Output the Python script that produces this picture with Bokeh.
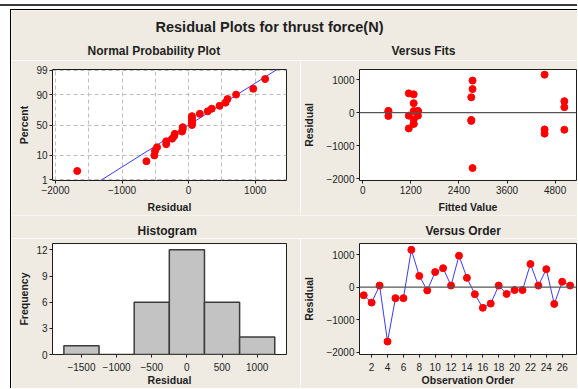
from statistics import NormalDist
import numpy as np
from bokeh.plotting import figure
from bokeh.models import FixedTicker, Span, Label, Range1d, ColumnDataSource
from bokeh.layouts import column, row
from bokeh.embed import file_html
from bokeh.resources import INLINE

# ---------------- data ----------------
observation = list(range(1, 28))
residuals = [-248, -475, 50, -1673, -337, -337, 1149, 347, -99, 465, 584, 50,
             970, 287, -218, -634, -505, 50, -208, -89, -89, 713, 50, 554,
             -515, 168, 50]
fitted = [2708, 1149, 640, 2740, 1272, 1272, 4537, 5030, 640, 2708, 1149, 640,
          2740, 1272, 2708, 4537, 4537, 1272, 1272, 1149, 1378, 2740, 1378, 1272,
          5030, 5030, 1378]
hist_centers = [-1500, -1000, -500, 0, 500, 1000]
hist_counts = [1, 0, 6, 12, 6, 2]
bin_width = 500
percent_ticks = [1, 10, 50, 90, 99]
npp_x_ticks = [-2000, -1000, 0, 1000]
npp_x_minor = [-1500, -500, 500]
fits_x_ticks = [0, 1200, 2400, 3600, 4800]
resid_ticks = [-2000, -1000, 0, 1000]
hist_x_ticks = [-1500, -1000, -500, 0, 500, 1000]
hist_y_ticks = [0, 3, 6, 9, 12]
order_ticks = list(range(2, 27, 2))

main_title = "Residual Plots for thrust force(N)"
panel_titles = ["Normal Probability Plot", "Versus Fits", "Histogram", "Versus Order"]

BG = "#EFEBE3"
FONT = "Liberation Sans"
DARK = "#1e1e1e"
RED = "#FF0000"
BLUE = "#3A3AFF"
W = 566


def strip(height):
    s = figure(width=W, height=height, x_range=Range1d(0, W), y_range=Range1d(0, height),
               x_axis_type=None, y_axis_type=None, output_backend="svg",
               toolbar_location=None, min_border=0)
    s.outline_line_color = None
    s.background_fill_color = BG
    s.border_fill_color = BG
    s.grid.visible = False
    return s


def put_text(s, x, y, text, size, align="left"):
    s.add_layout(Label(x=x, y=y, text=text, text_align=align, text_baseline="middle",
                       text_font=FONT, text_font_size=size, text_font_style="bold",
                       text_color=DARK))


def make_fig(width, height, xr, yr, mb, xlabel, ylabel,
             xl_standoff=4, yl_standoff=3, tick_standoff=2):
    p = figure(width=width, height=height, x_range=Range1d(*xr), y_range=Range1d(*yr),
               output_backend="svg", toolbar_location=None,
               min_border_left=mb[0], min_border_right=mb[1],
               min_border_top=mb[2], min_border_bottom=mb[3])
    p.border_fill_color = BG
    p.background_fill_color = "white"
    p.outline_line_color = DARK
    p.outline_line_width = 1
    p.grid.visible = False
    for ax in p.axis:
        ax.axis_line_color = None
        ax.major_tick_out = 3
        ax.major_tick_in = 0
        ax.minor_tick_out = 0
        ax.minor_tick_in = 0
        ax.major_tick_line_color = DARK
        ax.major_label_text_font = FONT
        ax.major_label_text_font_size = "10px"
        ax.major_label_text_color = DARK
        ax.major_label_standoff = 2
        ax.axis_label_text_font = FONT
        ax.axis_label_text_font_size = "10.5px"
        ax.axis_label_text_font_style = "bold"
        ax.axis_label_text_color = DARK
    p.xaxis.major_label_standoff = tick_standoff
    p.xaxis.axis_label = xlabel
    p.yaxis.axis_label = ylabel
    p.xaxis.axis_label_standoff = xl_standoff
    p.yaxis.axis_label_standoff = yl_standoff
    return p


# ---------------- header with main title and top panel titles ----------------
header = strip(50)
put_text(header, 258, 34, main_title, "14.5px", align="center")
put_text(header, 76, 10, panel_titles[0], "12px")
put_text(header, 380, 10, panel_titles[1], "12px")

# ---------------- normal probability plot ----------------
nd = NormalDist()
n = len(residuals)
sorted_res = sorted(residuals)
probs = [(i + 1 - 0.3) / (n + 0.4) for i in range(n)]
zvals = [nd.inv_cdf(pp) for pp in probs]
mu = float(np.mean(residuals))
sd = float(np.std(residuals, ddof=1))
zline = [-2.5, 2.5]
xline = [mu + sd * z for z in zline]
pct_z = [nd.inv_cdf(v / 100.0) for v in percent_ticks]

p1 = make_fig(289, 155, (-2045, 1470), (-2.355, 2.355), (41, 14, 9, 35),
              "Residual", "Percent")
p1.xaxis.ticker = FixedTicker(ticks=npp_x_ticks, minor_ticks=npp_x_minor)
p1.yaxis.ticker = FixedTicker(ticks=pct_z)
p1.yaxis.major_label_overrides = {z: str(v) for z, v in zip(pct_z, percent_ticks)}
p1.xgrid.visible = True
p1.ygrid.visible = True
for g in (p1.xgrid, p1.ygrid):
    g.grid_line_color = "#BDBDBD"
    g.grid_line_dash = "4 3"
    g.grid_line_width = 1
p1.xgrid.minor_grid_line_color = "#BDBDBD"
p1.xgrid.minor_grid_line_dash = "4 3"
p1.line(xline, zline, line_color=BLUE, line_width=1)
p1.scatter(sorted_res, zvals, size=7, fill_color=RED, line_color=RED)

# ---------------- versus fits ----------------
p2 = make_fig(277, 155, (-80, 5333), (-2049, 1305), (56, 1, 9, 35),
              "Fitted Value", "Residual", yl_standoff=8)
p2.xaxis.ticker = FixedTicker(ticks=fits_x_ticks)
p2.yaxis.ticker = FixedTicker(ticks=resid_ticks)
p2.add_layout(Span(location=0, dimension="width", line_color="#555555", line_width=1.2))
p2.scatter(fitted, residuals, size=7, fill_color=RED, line_color=RED)

# ---------------- strip with bottom panel titles ----------------
mid = strip(23)
put_text(mid, 126, 8, panel_titles[2], "12px")
put_text(mid, 414, 8, panel_titles[3], "12px")

# ---------------- histogram ----------------
p3 = make_fig(289, 150, (-1912, 1417), (0, 12.73), (41, 14, 5, 32),
              "Residual", "Frequency", xl_standoff=0, tick_standoff=5)
p3.xaxis.ticker = FixedTicker(ticks=hist_x_ticks)
p3.yaxis.ticker = FixedTicker(ticks=hist_y_ticks)
src = ColumnDataSource(dict(
    left=[c - bin_width / 2 for c in hist_centers],
    right=[c + bin_width / 2 for c in hist_centers],
    top=hist_counts, bottom=[0] * len(hist_counts)))
p3.quad(left="left", right="right", top="top", bottom="bottom", source=src,
        fill_color="#C3C3C3", line_color="#3C3C3C", line_width=1.5)

# ---------------- versus order ----------------
p4 = make_fig(277, 150, (0.47, 27.8), (-2071, 1344), (56, 1, 5, 32),
              "Observation Order", "Residual",
              xl_standoff=0, yl_standoff=8, tick_standoff=5)
p4.xaxis.ticker = FixedTicker(ticks=order_ticks)
p4.yaxis.ticker = FixedTicker(ticks=resid_ticks)
p4.add_layout(Span(location=0, dimension="width", line_color="#555555", line_width=1.2))
p4.line(observation, residuals, line_color=BLUE, line_width=1)
p4.scatter(observation, residuals, size=7, fill_color=RED, line_color=RED)

inner = column(header, row(p1, p2), mid, row(p3, p4),
               styles={"border-left": "1px solid #000", "border-top": "1px solid #000"})
outer = column(inner, styles={"border-top": "2px solid #3c3c3c", "padding-top": "3px",
                              "padding-left": "10px", "margin-top": "4px",
                              "background-color": "white"})

open("out.html", "w").write(file_html(outer, INLINE))
